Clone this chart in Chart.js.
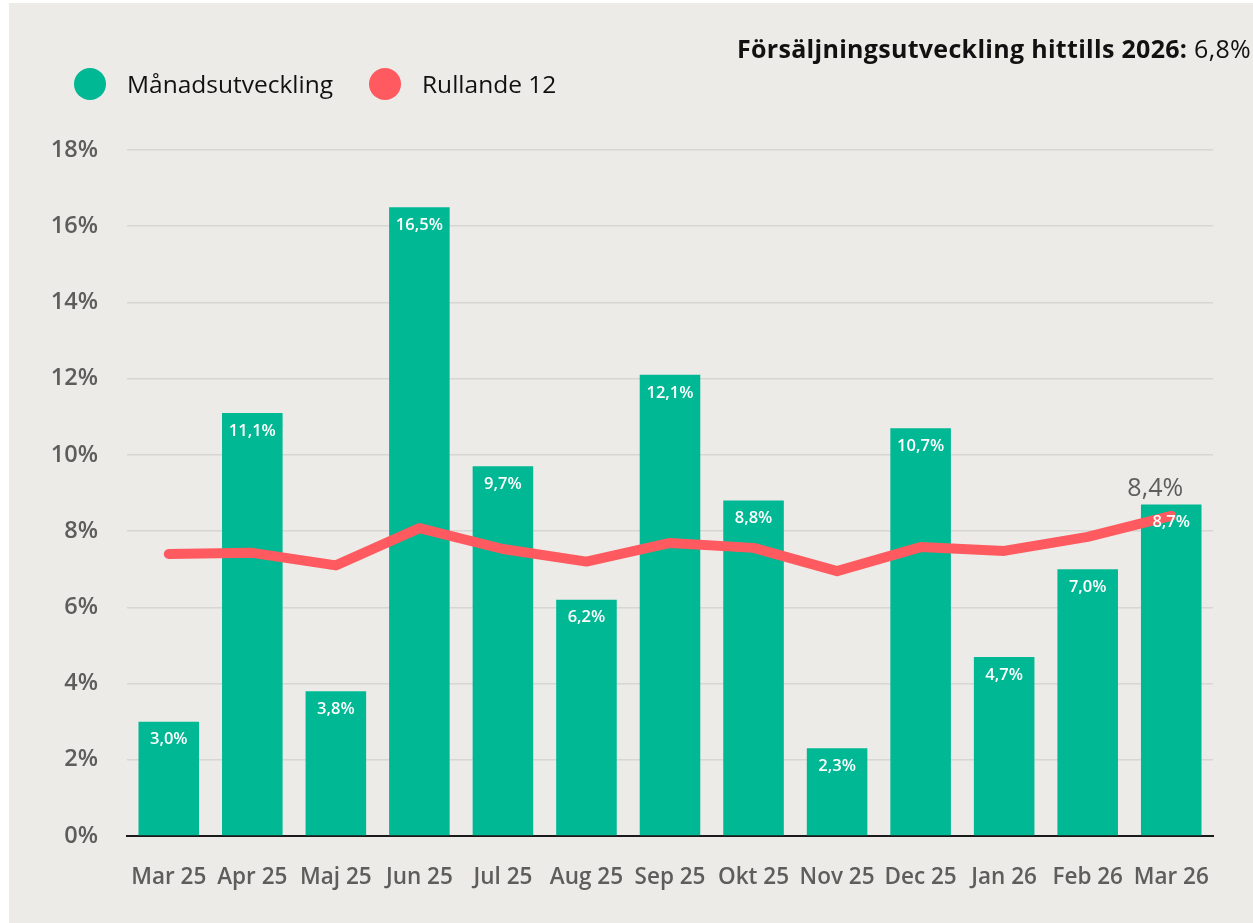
<!DOCTYPE html>
<html>
<head>
<meta charset="utf-8">
<script src="https://cdn.jsdelivr.net/npm/chart.js@4/dist/chart.umd.min.js"></script>
<style>
  body { margin: 0; background: #fff; font-family: "Open Sans", sans-serif; }
  #panel { position: absolute; left: 9px; top: 3px; width: 1244px; height: 920px; background: #edebe8; }
  #chart { position: absolute; left: 0; top: 0; }
  .title { position: absolute; right: 2px; top: 28px; font-size: 25px; color: #111; white-space: nowrap; letter-spacing: 0.3px; }
  .title b { font-weight: 700; }
  .legend { position: absolute; top: 64px; font-size: 24.5px; color: #111; display: flex; align-items: center; }
  .dot { width: 32px; height: 32px; border-radius: 50%; margin-right: 21px; }
</style>
</head>
<body>
<div id="panel">
  <canvas id="chart" width="1244" height="920"></canvas>
  <div class="title"><b>Försäljningsutveckling hittills 2026:</b> 6,8%</div>
  <div class="legend" style="left:65px"><span class="dot" style="background:#00b894"></span>Månadsutveckling</div>
  <div class="legend" style="left:360px"><span class="dot" style="background:#ff5a5f"></span>Rullande 12</div>
</div>
<script>
// data
const months = ["Mar 25", "Apr 25", "Maj 25", "Jun 25", "Jul 25", "Aug 25", "Sep 25",
                "Okt 25", "Nov 25", "Dec 25", "Jan 26", "Feb 26", "Mar 26"];
const manad = [3.0, 11.1, 3.8, 16.5, 9.7, 6.2, 12.1, 8.8, 2.3, 10.7, 4.7, 7.0, 8.7];
const rullande = [7.4, 7.43, 7.1, 8.08, 7.53, 7.2, 7.69, 7.56, 6.95, 7.58, 7.48, 7.85, 8.4];

const fmt = v => v.toFixed(1).replace(".", ",") + "%";

// etiketter i staplarna + sista punkten på linjen
const etiketter = {
    id: "etiketter",
    afterDatasetsDraw(chart) {
        const ctx = chart.ctx;
        ctx.save();
        ctx.textAlign = "center";
        ctx.textBaseline = "middle";
        ctx.fillStyle = "#ffffff";
        ctx.font = "600 16.5px 'Open Sans'";
        chart.getDatasetMeta(0).data.forEach((bar, i) => {
            ctx.fillText(fmt(manad[i]), bar.x, bar.y + 18);
        });
        const pts = chart.getDatasetMeta(1).data;
        const last = pts[pts.length - 1];
        ctx.fillStyle = "#5f5d5b";
        ctx.font = "500 25px 'Open Sans'";
        ctx.fillText(fmt(rullande[rullande.length - 1]), last.x - 16, last.y - 27);
        ctx.restore();
    }
};

new Chart(document.getElementById("chart"), {
    data: {
        labels: months,
        datasets: [
            {
                type: "bar",
                label: "Månadsutveckling",
                data: manad,
                backgroundColor: "#00b894",
                categoryPercentage: 1,
                barPercentage: 0.725,
                order: 1
            },
            {
                type: "line",
                label: "Rullande 12",
                data: rullande,
                borderColor: "#ff5a5f",
                borderWidth: 10,
                borderCapStyle: "round",
                borderJoinStyle: "round",
                pointRadius: 0,
                tension: 0,
                order: 0
            }
        ]
    },
    options: {
        responsive: false,
        animation: false,
        layout: { padding: { top: 147, right: 40, left: 0, bottom: 0 } },
        plugins: {
            legend: { display: false },
            tooltip: { enabled: false }
        },
        scales: {
            x: {
                grid: { display: false },
                border: { color: "#1a1a1a", width: 2 },
                ticks: {
                    color: "#5f5d5b",
                    font: { family: "Open Sans", size: 22.5, weight: "600" },
                    padding: 20,
                    maxRotation: 0,
                    autoSkip: false
                },
                afterFit: s => { s.height = 87; }
            },
            y: {
                min: 0,
                max: 18,
                grid: { color: "#d8d6d3", lineWidth: 1.5, drawTicks: false },
                border: { display: false },
                ticks: {
                    stepSize: 2,
                    color: "#5f5d5b",
                    font: { family: "Open Sans", size: 23.5, weight: "600" },
                    padding: 29,
                    callback: v => v + "%"
                },
                afterFit: s => { s.width = 118; }
            }
        }
    },
    plugins: [etiketter]
});
</script>
</body>
</html>
